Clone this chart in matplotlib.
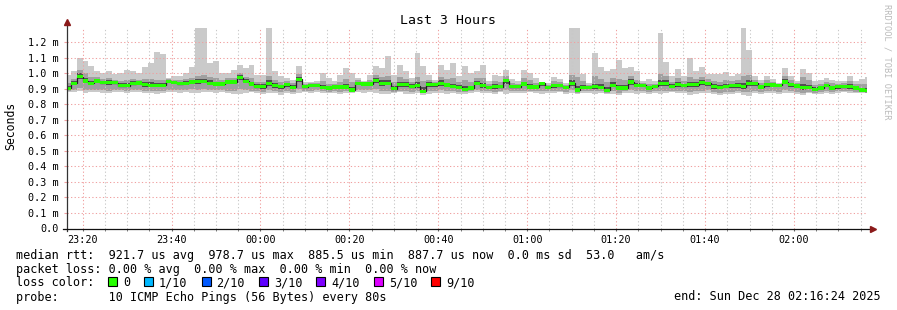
import numpy as np
import pandas as pd
import matplotlib
matplotlib.use("Agg")
import matplotlib.pyplot as plt
import matplotlib.dates as mdates
from matplotlib.patches import Rectangle

# ping results per 80 s step, in microseconds (10 pings sorted, p1..p10)
median = [904, 936, 979, 952, 936, 951, 940, 940, 940, 922,
          920, 935, 939, 927, 925, 925, 925, 949, 944, 934,
          938, 945, 946, 950, 938, 932, 932, 945, 945, 974,
          949, 932, 915, 915, 936, 921, 915, 928, 911, 962,
          915, 923, 923, 911, 906, 913, 913, 913, 894, 938,
          932, 932, 953, 938, 938, 902, 928, 928, 915, 921,
          886, 928, 928, 936, 926, 917, 911, 898, 906, 938,
          921, 911, 915, 915, 953, 915, 915, 932, 913, 913,
          936, 911, 921, 921, 911, 936, 894, 911, 911, 915,
          911, 891, 923, 906, 906, 945, 923, 923, 906, 917,
          934, 934, 917, 928, 921, 928, 928, 940, 936, 915,
          911, 917, 921, 921, 915, 936, 936, 913, 928, 926,
          923, 945, 928, 919, 911, 911, 898, 906, 923, 906,
          915, 915, 915, 906, 894, 888]
ping_max = [990, 1017, 1098, 1081, 1048, 1015, 1003, 1016, 998, 1004,
            1024, 1017, 1002, 1045, 1070, 1138, 1126, 972, 985, 981,
            1002, 1043, 1300, 1300, 1070, 1081, 1002, 1006, 1023, 1055,
            1038, 1055, 991, 991, 1300, 1013, 981, 974, 960, 1051,
            945, 945, 953, 1002, 970, 953, 991, 1038, 1002, 974,
            953, 991, 1051, 1038, 1113, 991, 1055, 1017, 970, 1132,
            1051, 991, 960, 1055, 1023, 1070, 981, 1051, 1002, 1017,
            1055, 949, 991, 981, 1023, 966, 953, 1023, 1002, 970,
            945, 938, 977, 966, 938, 1300, 1300, 994, 936, 1132,
            1045, 1017, 1030, 1087, 1038, 1043, 1017, 949, 966, 949,
            1260, 1077, 981, 1030, 981, 1098, 1017, 1043, 998, 998,
            998, 1009, 987, 996, 1300, 1151, 987, 960, 981, 964,
            936, 1038, 987, 953, 1030, 1002, 949, 960, 970, 960,
            949, 953, 981, 949, 964, 975]
ping_min = [880, 878, 884, 876, 880, 878, 875, 874, 880, 878,
            876, 880, 879, 876, 874, 868, 872, 880, 878, 876,
            880, 877, 875, 878, 880, 876, 879, 872, 866, 870,
            875, 878, 872, 868, 876, 872, 864, 872, 868, 876,
            878, 874, 880, 876, 872, 874, 870, 876, 872, 878,
            876, 880, 872, 866, 868, 874, 878, 870, 866, 872,
            862, 870, 874, 876, 870, 874, 868, 870, 876, 878,
            874, 876, 870, 878, 870, 874, 876, 872, 878, 874,
            866, 876, 872, 878, 870, 876, 868, 872, 874, 870,
            876, 866, 868, 864, 874, 872, 868, 876, 870, 874,
            866, 872, 878, 872, 876, 864, 870, 874, 876, 866,
            862, 870, 868, 872, 862, 858, 874, 870, 874, 872,
            868, 876, 872, 870, 862, 872, 870, 866, 874, 868,
            872, 878, 872, 874, 872, 874]
ping_p2 = [890, 895, 905, 892, 892, 896, 892, 890, 894, 892,
           890, 894, 895, 890, 888, 884, 886, 896, 894, 892,
           895, 898, 895, 898, 895, 892, 893, 890, 885, 900,
           892, 890, 884, 882, 892, 886, 878, 886, 882, 900,
           890, 888, 892, 885, 882, 886, 882, 886, 880, 896,
           892, 895, 898, 884, 888, 882, 890, 885, 880, 886,
           872, 886, 890, 892, 885, 886, 880, 878, 886, 895,
           888, 886, 882, 890, 895, 886, 888, 890, 888, 885,
           884, 886, 885, 890, 882, 895, 876, 884, 886, 884,
           886, 874, 884, 876, 884, 892, 884, 890, 880, 886,
           885, 890, 890, 886, 888, 880, 884, 890, 892, 880,
           875, 882, 882, 884, 880, 878, 890, 882, 888, 886,
           882, 895, 886, 882, 874, 882, 876, 878, 886, 880,
           884, 888, 884, 882, 878, 876]
ping_p9 = [940, 965, 1025, 1000, 975, 975, 962, 968, 960, 952,
           958, 963, 960, 966, 962, 960, 958, 962, 960, 955,
           962, 972, 985, 990, 975, 968, 958, 968, 972, 1000,
           975, 968, 945, 948, 985, 955, 945, 952, 940, 995,
           932, 936, 940, 950, 935, 935, 948, 962, 945, 958,
           945, 958, 990, 978, 985, 948, 975, 962, 945, 975,
           950, 958, 945, 978, 962, 968, 945, 955, 945, 968,
           970, 932, 950, 945, 985, 940, 935, 968, 955, 940,
           942, 928, 950, 945, 928, 990, 980, 950, 928, 985,
           965, 948, 970, 965, 960, 985, 958, 938, 935, 935,
           995, 985, 948, 968, 950, 975, 962, 980, 962, 950,
           948, 955, 950, 955, 985, 990, 958, 938, 955, 945,
           932, 985, 958, 938, 975, 955, 925, 935, 948, 938,
           935, 938, 950, 930, 930, 935]
ping_p4 = [897, 925, 965, 940, 926, 940, 930, 928, 930, 912,
           910, 924, 928, 916, 914, 912, 914, 936, 932, 924,
           928, 934, 935, 938, 926, 920, 921, 932, 930, 955,
           936, 920, 904, 902, 922, 908, 900, 914, 900, 945,
           905, 910, 912, 900, 896, 902, 900, 902, 886, 926,
           922, 921, 938, 922, 925, 892, 916, 914, 904, 908,
           878, 914, 916, 922, 912, 905, 900, 888, 896, 925,
           908, 900, 902, 905, 935, 904, 904, 918, 902, 902,
           918, 900, 908, 910, 900, 920, 884, 900, 902, 903,
           900, 882, 910, 895, 896, 928, 910, 912, 895, 906,
           918, 920, 905, 915, 910, 912, 914, 925, 922, 902,
           898, 905, 908, 908, 900, 918, 922, 902, 915, 912,
           910, 930, 914, 906, 896, 898, 888, 894, 910, 895,
           903, 904, 902, 895, 885, 880]
ping_p7 = [920, 952, 1000, 972, 952, 962, 952, 955, 950, 936,
           938, 950, 950, 942, 942, 940, 940, 958, 954, 945,
           950, 958, 962, 966, 955, 948, 945, 956, 958, 988,
           962, 948, 930, 930, 958, 936, 928, 940, 924, 978,
           924, 930, 932, 928, 920, 924, 928, 935, 915, 948,
           940, 945, 968, 955, 955, 922, 948, 942, 930, 945,
           910, 942, 936, 955, 940, 935, 925, 920, 922, 952,
           940, 922, 930, 928, 966, 926, 924, 948, 930, 925,
           940, 920, 934, 932, 920, 958, 918, 926, 920, 935,
           930, 912, 942, 928, 924, 962, 938, 930, 918, 926,
           958, 955, 930, 945, 934, 948, 942, 958, 948, 930,
           926, 932, 934, 936, 940, 958, 946, 925, 940, 935,
           928, 962, 940, 928, 935, 928, 912, 920, 935, 920,
           925, 926, 930, 918, 908, 905]

loss_labels = ["0", "1/10", "2/10", "3/10", "4/10", "5/10", "9/10"]
loss_colors = ["#26ff00", "#00b8ff", "#0059ff", "#5e00ff", "#7e00ff", "#dd00ff", "#ff0000"]

rtt_line = "median rtt:  921.7 us avg  978.7 us max  885.5 us min  887.7 us now  0.0 ms sd  53.0   am/s"
loss_line = "packet loss: 0.00 % avg  0.00 % max  0.00 % min  0.00 % now"
probe_line = "probe:       10 ICMP Echo Pings (56 Bytes) every 80s"
end_line = "end: Sun Dec 28 02:16:24 2025"

plt.rcParams["font.family"] = ["DejaVu Sans Mono"]

W, H = 897, 310
fig = plt.figure(figsize=(W / 100, H / 100), dpi=100)
fig.patch.set_facecolor("white")

left, right, top, bottom = 66.6, 866.9, 28.0, 228.5
ax = fig.add_axes([left / W, 1 - bottom / H, (right - left) / W, (bottom - top) / H])

edges = pd.date_range("2025-12-27 23:15:59", periods=len(median) + 1, freq="80s")
x = mdates.date2num(edges.values)

ms = lambda v: np.array(v, dtype=float) / 1000.0

# smoke, outer band first
ax.stairs(ms(ping_max), x, baseline=ms(ping_min), fill=True, color="#cacaca", lw=0, zorder=1)
ax.stairs(ms(ping_p9), x, baseline=ms(ping_p2), fill=True, color="#a0a0a0", lw=0, zorder=1.1)
ax.stairs(ms(ping_p7), x, baseline=ms(ping_p4), fill=True, color="#505050", lw=0, zorder=1.2)

# median: dark step line plus green loss-colour bar
med = ms(median)
half = 1.6 / 155.0
ax.stairs(med, x, baseline=None, color="#202020", lw=0.9, zorder=3)
ax.stairs(med + half, x, baseline=med - half, fill=True, color=loss_colors[0], lw=0, zorder=3.1)

ax.set_xlim(mdates.date2num(pd.Timestamp("2025-12-27 23:16:24")),
            mdates.date2num(pd.Timestamp("2025-12-28 02:16:24")))
ax.set_ylim(0, 1.2935)

ax.xaxis.set_major_locator(mdates.MinuteLocator(byminute=[0, 20, 40]))
ax.xaxis.set_minor_locator(mdates.MinuteLocator(byminute=range(0, 60, 5)))
ax.xaxis.set_major_formatter(mdates.DateFormatter("%H:%M"))
yt = np.round(np.arange(0, 1.21, 0.1), 1)
ax.set_yticks(yt)
ax.set_yticklabels(["0.0"] + [f"{v:.1f} m" for v in yt[1:]])

dots = (0, (1.2, 2.2))
ax.grid(which="minor", axis="x", color="#c8c8c8", lw=0.75, ls=dots, zorder=2)
ax.grid(which="major", axis="x", color="#f0a0a0", lw=0.75, ls=dots, zorder=2)
ax.grid(which="major", axis="y", color="#f0a0a0", lw=0.75, ls=dots, zorder=2)
ax.set_axisbelow(False)

ax.tick_params(axis="x", which="both", length=1.5, color="#666666", pad=3, labelsize=7.3)
ax.tick_params(axis="y", which="major", length=2, color="#f0a0a0", pad=3.5, labelsize=7.3)

for s in ax.spines.values():
    s.set_visible(False)
ax.set_facecolor("white")

# axes with arrow heads
ax.plot([0, 0], [-0.01, 1.025], color="#333333", lw=0.9, transform=ax.transAxes, clip_on=False, zorder=5)
ax.plot([-0.004, 1.005], [0, 0], color="#111111", lw=0.9, transform=ax.transAxes, clip_on=False, zorder=5)
ax.plot(0, 1.03, marker="^", ms=4, color="#8b1a1a", transform=ax.transAxes, clip_on=False, zorder=6)
ax.plot(1.007, 0, marker=">", ms=4, color="#8b1a1a", transform=ax.transAxes, clip_on=False, zorder=6)


def px(xp, yp):
    return xp / W, 1 - yp / H


fig.text(*px(448, 20), "Last 3 Hours", ha="center", va="center", fontsize=9.5)
fig.text(*px(11, 126), "Seconds", rotation=90, ha="center", va="center", fontsize=8.3)
fig.text(*px(887, 4), "RRDTOOL / TOBI OETIKER", rotation=270, ha="center", va="top",
         fontsize=6.2, color="#bbbbbb")

fs = 8.5
cw = 7.1
fig.text(*px(16, 258.5), rtt_line, ha="left", va="baseline", fontsize=fs)
fig.text(*px(16, 272.5), loss_line, ha="left", va="baseline", fontsize=fs)
fig.text(*px(16, 286.5), "loss color:", ha="left", va="baseline", fontsize=fs)
fig.text(*px(16, 300.5), probe_line, ha="left", va="baseline", fontsize=fs)
fig.text(*px(881, 300.5), end_line, ha="right", va="baseline", fontsize=fs)

xb = 108
for lab, col in zip(loss_labels, loss_colors):
    bx, by = px(xb, 286)
    fig.add_artist(Rectangle((bx, by), 9 / W, 9 / H, transform=fig.transFigure,
                             facecolor=col, edgecolor="black", lw=0.8))
    fig.text(*px(xb + 15, 286.5), lab, ha="left", va="baseline", fontsize=fs)
    xb += 15 + len(lab) * cw + 14

fig.savefig("out.png", dpi=100, facecolor="white")
